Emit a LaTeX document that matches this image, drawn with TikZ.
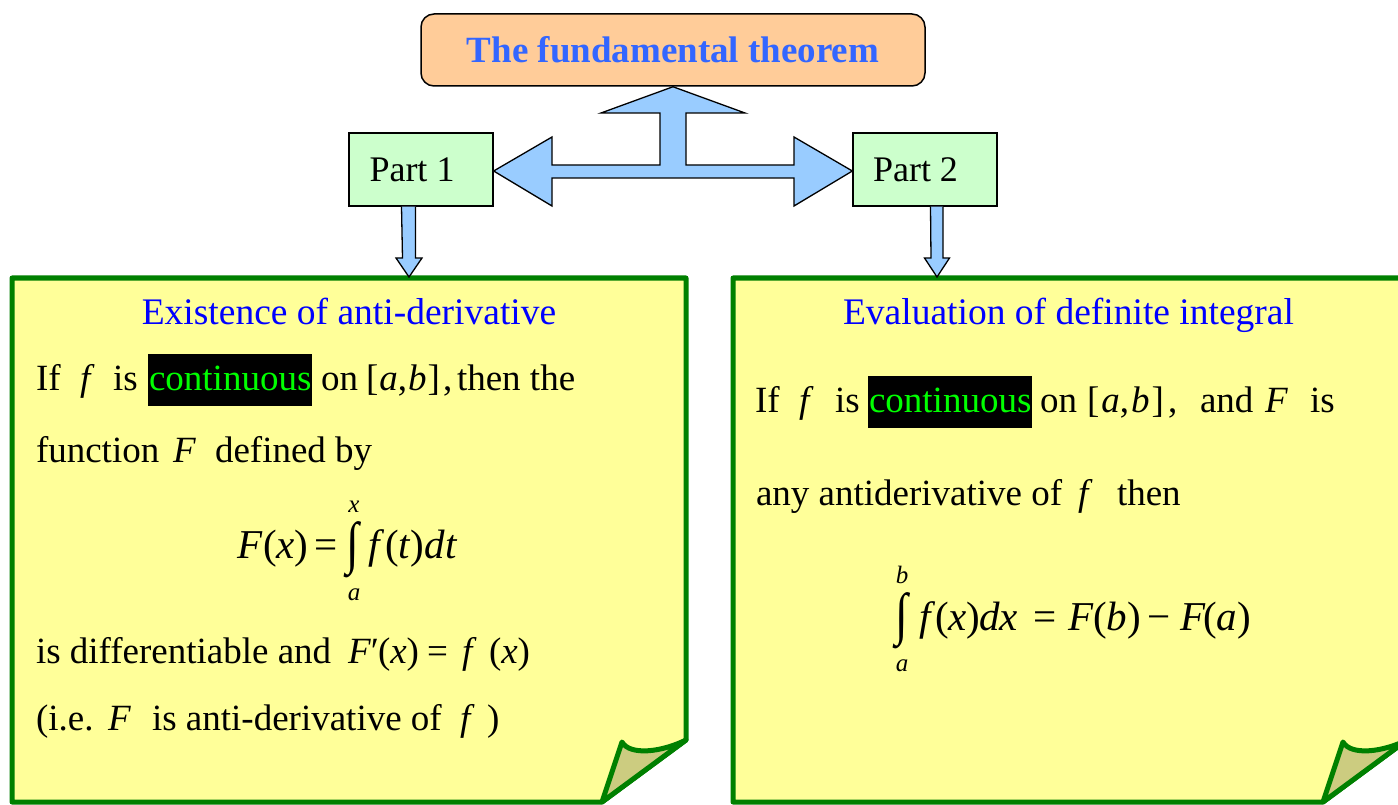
\documentclass[tikz,border=0pt]{standalone}
\usepackage{fontspec}
\setmainfont{Liberation Serif}
\usepackage{graphicx}
\usetikzlibrary{calc}
\definecolor{titlefill}{HTML}{FFCC99}
\definecolor{titleblue}{HTML}{3366FF}
\definecolor{partfill}{HTML}{CCFFCC}
\definecolor{arrowblue}{HTML}{99CCFF}
\definecolor{notefill}{HTML}{FFFF99}
\definecolor{notegreen}{HTML}{008000}
\definecolor{foldfill}{HTML}{CCCC80}
\definecolor{headblue}{HTML}{0000FF}
\definecolor{hlgreen}{HTML}{00FF00}
\newcommand\hlword[1]{{\setlength\fboxsep{0pt}\colorbox{black}{\rule[-16pt]{0pt}{52pt}\hspace{1pt}\textcolor{hlgreen}{#1}\hspace{1pt}}}}
\tikzset{
  txt/.style={anchor=base west, inner sep=0pt, outer sep=0pt, font=\fontsize{37}{44}\selectfont},
  eq/.style={anchor=base west, inner sep=0pt, outer sep=0pt, font=\fontsize{41}{48}\selectfont},
  lim/.style={anchor=base, inner sep=0pt, outer sep=0pt, font=\fontsize{25}{30}\selectfont\itshape},
  intsign/.style={inner sep=0pt, outer sep=0pt, font=\fontsize{37}{44}\selectfont},
  head/.style={anchor=base, inner sep=0pt, text=headblue, font=\fontsize{37.5}{45}\selectfont},
  partbox/.style={draw=black, fill=partfill, line width=1.3pt, minimum width=144pt, minimum height=73pt, inner sep=0pt, font=\fontsize{36}{43}\selectfont},
  titlebox/.style={draw=black, fill=titlefill, line width=1.5pt, rounded corners=13pt, minimum width=504pt, minimum height=72pt, inner sep=0pt, text=titleblue, font=\fontsize{37}{44}\selectfont\bfseries},
  fat/.style={draw=black, fill=arrowblue, line width=1.3pt, line join=miter},
  note/.style={draw=notegreen, fill=notefill, line width=5pt, line join=round},
  fold/.style={draw=notegreen, fill=foldfill, line width=5pt, line join=round},
}
\begin{document}
\begin{tikzpicture}[x=1pt, y=-1pt]
\useasboundingbox (0,0) rectangle (1398,805);

% notes
\draw[note] (12,278) -- (686,278) -- (686,740) -- (602,802) -- (12,802) -- cycle;
\draw[fold] (622,742) .. controls (630,756) and (662,752) .. (686,740) -- (602,802) -- cycle;
\draw[note] (733,278) -- (1407,278) -- (1407,740) -- (1323,802) -- (733,802) -- cycle;
\draw[fold] (1343,742) .. controls (1351,756) and (1383,752) .. (1407,740) -- (1323,802) -- cycle;

% top nodes
\node[titlebox] (title) at (673,50) {The fundamental theorem};
\node[partbox] (p1) at (421,169.5) {\hspace*{-18pt}Part 1};
\node[partbox] (p2) at (925,169.5) {\hspace*{-19pt}Part 2};
\coordinate (n1) at (409,277);
\coordinate (n2) at (937,277);

% T-shaped double arrow
\draw[fat] ($(p1.east)+(0,1.5)$) -- (552,137) -- (552,165) -- (660,165) -- (660,113) -- (601,113)
  -- (title.south) -- (745,113) -- (686,113) -- (686,165) -- (794,165) -- (794,137)
  -- ($(p2.west)+(0,1.5)$) -- (794,206) -- (794,178) -- (552,178) -- (552,206) -- cycle;

% down arrows
\draw[fat] ($(p1.south)+(-19.5,0)$) -- (402.5,258) -- (396,258) -- (n1) -- (422,258) -- (415.5,258) -- ($(p1.south)+(-5.5,0)$);
\draw[fat] ($(p2.south)+(5.5,0)$) -- (931,258) -- (924.5,258) -- (n2) -- (949.5,258) -- (943,258) -- ($(p2.south)+(18,0)$);

% left note text
\node[head] (h1) at (349,324) {Existence of anti-derivative};
\node[txt] (a1) at (36,390) {If};
\node[txt] (a2) at (80,390) {\textit{f}};
\node[txt] (a3) at (113,390) {is};
\node[txt] (a4) at (148,390) {\hlword{continuous}};
\node[txt] (a5) at (321,390) {on};
\node[txt] (a6) at (366,390) {[\hspace{1pt}\textit{a},\hspace{1pt}\textit{b}\hspace{1pt}]};
\node[txt] (a7) at (443,390) {,};
\node[txt] (a8) at (457,390) {then the};
\node[txt] (b1) at (36,462) {function};
\node[txt] (b2) at (173,462) {\textit{F}};
\node[txt] (b3) at (215,462) {defined by};
\node[eq] (c1) at (237,558) {\textit{F}};
\node[eq] (c2) at (263,558) {(\textit{x})};
\node[eq] (c3) at (314,558) {=};
\node[intsign] (c4) at (353,549.5) {\scalebox{1.25}[1.55]{∫}};
\node[lim] (c5) at (354,512) {x};
\node[lim] (c6) at (354,600) {a};
\node[eq] (c7) at (368,558) {\textit{f}\hspace{1pt}(\textit{t})\textit{dt}};
\node[txt] (d1) at (36,663) {is differentiable and};
\node[txt] (d2) at (348,663) {\textit{F}′};
\node[txt] (d3) at (378,663) {(\textit{x})};
\node[txt] (d4) at (427,663) {=};
\node[txt] (d5) at (462,663) {\textit{f}};
\node[txt] (d6) at (489,663) {(\textit{x})};
\node[txt] (e1) at (36,730) {(i.e.};
\node[txt] (e2) at (108,730) {\textit{F}};
\node[txt] (e3) at (152,730) {is anti-derivative of};
\node[txt] (e4) at (460,730) {\textit{f}};
\node[txt] (e5) at (487,730) {)};

% right note text
\node[head] (h2) at (1068.5,324) {Evaluation of definite integral};
\node[txt] (r1) at (755,412) {If};
\node[txt] (r2) at (799,412) {\textit{f}};
\node[txt] (r3) at (835,412) {is};
\node[txt] (r4) at (868,412) {\hlword{continuous}};
\node[txt] (r5) at (1040,412) {on};
\node[txt] (r6) at (1087,412) {[\hspace{2pt}\textit{a},\hspace{2pt}\textit{b}\hspace{2pt}]};
\node[txt] (r7) at (1168,412) {,};
\node[txt] (r8) at (1200,412) {and};
\node[txt] (r9) at (1265,412) {\textit{F}};
\node[txt] (r10) at (1310,412) {is};
\node[txt] (s1) at (756,505) {any antiderivative of};
\node[txt] (s2) at (1078,505) {\textit{f}};
\node[txt] (s3) at (1117,505) {then};
\node[intsign] (t1) at (902,621) {\scalebox{1.25}[1.55]{∫}};
\node[lim] (t2) at (902,583) {b};
\node[lim] (t3) at (902,671) {a};
\node[eq] (t4) at (919,630) {\textit{f}};
\node[eq] (t5) at (935,630) {(\textit{x})};
\node[eq] (t6) at (979,630) {\textit{dx}};
\node[eq] (t7) at (1033,630) {=};
\node[eq] (t8) at (1068,630) {\textit{F}};
\node[eq] (t9) at (1093,630) {(\textit{b})};
\node[eq] (t10) at (1147,630) {−};
\node[eq] (t11) at (1180,630) {\textit{F}};
\node[eq] (t12) at (1203,630) {(\textit{a})};
\end{tikzpicture}
\end{document}
